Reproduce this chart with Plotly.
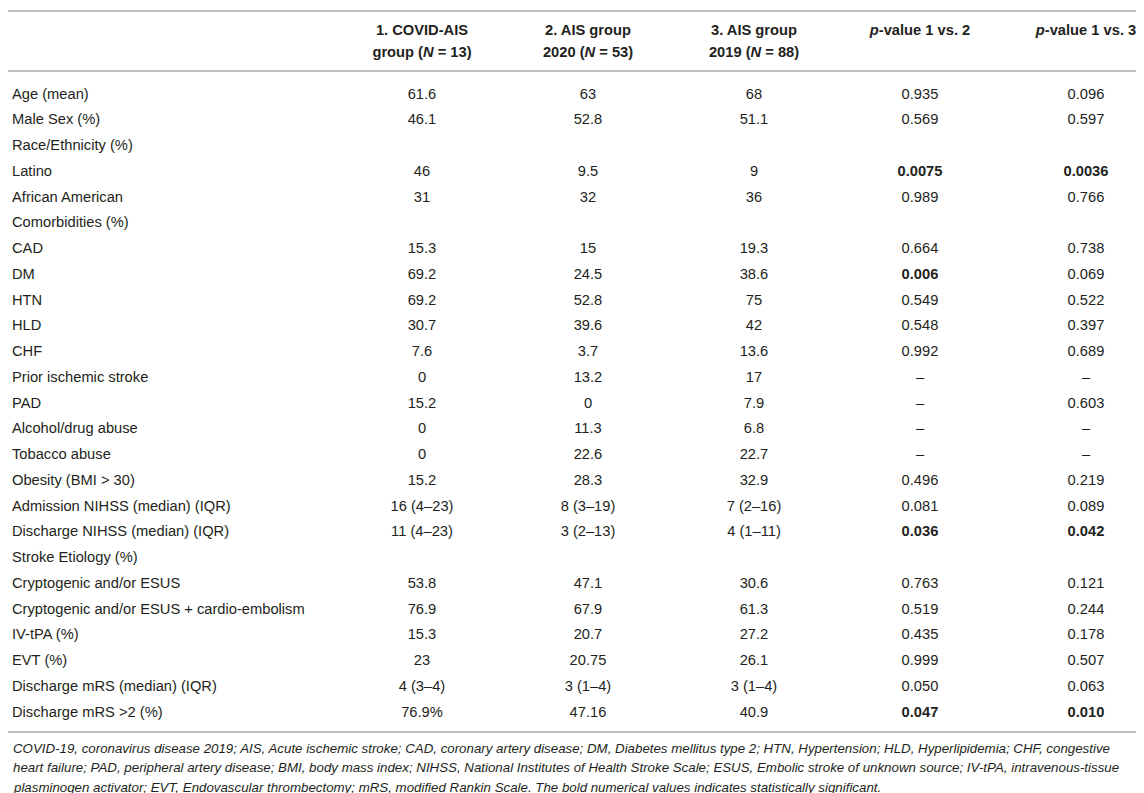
import plotly.graph_objects as go

# table contents
header_top = ['<b>1. COVID-AIS</b>', '<b>2. AIS group</b>', '<b>3. AIS group</b>',
              '<b><i>p</i>-value 1 vs. 2</b>', '<b><i>p</i>-value 1 vs. 3</b>']
header_bottom = ['<b>group (<i>N</i> = 13)</b>', '<b>2020 (<i>N</i> = 53)</b>',
                 '<b>2019 (<i>N</i> = 88)</b>', '', '']

row_labels = ['Age (mean)', 'Male Sex (%)', 'Race/Ethnicity (%)', 'Latino',
              'African American', 'Comorbidities (%)', 'CAD', 'DM', 'HTN', 'HLD',
              'CHF', 'Prior ischemic stroke', 'PAD', 'Alcohol/drug abuse',
              'Tobacco abuse', 'Obesity (BMI > 30)',
              'Admission NIHSS (median) (IQR)', 'Discharge NIHSS (median) (IQR)',
              'Stroke Etiology (%)', 'Cryptogenic and/or ESUS',
              'Cryptogenic and/or ESUS + cardio-embolism', 'IV-tPA (%)', 'EVT (%)',
              'Discharge mRS (median) (IQR)', 'Discharge mRS >2 (%)']

covid_ais = ['61.6', '46.1', '', '46', '31', '', '15.3', '69.2', '69.2', '30.7',
             '7.6', '0', '15.2', '0', '0', '15.2', '16 (4–23)', '11 (4–23)', '',
             '53.8', '76.9', '15.3', '23', '4 (3–4)', '76.9%']
ais_2020 = ['63', '52.8', '', '9.5', '32', '', '15', '24.5', '52.8', '39.6',
            '3.7', '13.2', '0', '11.3', '22.6', '28.3', '8 (3–19)', '3 (2–13)', '',
            '47.1', '67.9', '20.7', '20.75', '3 (1–4)', '47.16']
ais_2019 = ['68', '51.1', '', '9', '36', '', '19.3', '38.6', '75', '42',
            '13.6', '17', '7.9', '6.8', '22.7', '32.9', '7 (2–16)', '4 (1–11)', '',
            '30.6', '61.3', '27.2', '26.1', '3 (1–4)', '40.9']
p_1vs2 = ['0.935', '0.569', '', '0.0075', '0.989', '', '0.664', '0.006', '0.549',
          '0.548', '0.992', '–', '–', '–', '–', '0.496', '0.081', '0.036', '',
          '0.763', '0.519', '0.435', '0.999', '0.050', '0.047']
p_1vs3 = ['0.096', '0.597', '', '0.0036', '0.766', '', '0.738', '0.069', '0.522',
          '0.397', '0.689', '–', '0.603', '–', '–', '0.219', '0.089', '0.042', '',
          '0.121', '0.244', '0.178', '0.507', '0.063', '0.010']

# statistically significant p-values are set in bold
sig_1vs2 = ['0.0075', '0.006', '0.036', '0.047']
sig_1vs3 = ['0.0036', '0.042', '0.010']

footnote_lines = [
    'COVID-19, coronavirus disease 2019; AIS, Acute ischemic stroke; CAD, coronary artery disease; '
    'DM, Diabetes mellitus type 2; HTN, Hypertension; HLD, Hyperlipidemia; CHF, congestive',
    'heart failure; PAD, peripheral artery disease; BMI, body mass index; NIHSS, National Institutes of '
    'Health Stroke Scale; ESUS, Embolic stroke of unknown source; IV-tPA, intravenous-tissue',
    'plasminogen activator; EVT, Endovascular thrombectomy; mRS, modified Rankin Scale. '
    'The bold numerical values indicates statistically significant.',
]


def bold(values, sig):
  return ['<b>%s</b>' % v if v in sig else v for v in values]


W, H = 1144, 793
font = 'Liberation Sans, Arial, Helvetica, sans-serif'
ink = '#231f20'
rule = '#a9a9a9'
fs = 14.7

# axis geometry: value columns sit at x = 1..5, rows at y = 0..n-1
col_px0, col_step = 414, 166          # pixel centre of column 1, spacing
row_px0, row_step = 87, 25.75         # pixel centre of first row, spacing
label_x = 1 + (4 - col_px0) / col_step
head_y = [(23 - row_px0) / row_step, (45 - row_px0) / row_step]

n = len(row_labels)
rows = list(range(n))
columns = [covid_ais, ais_2020, ais_2019,
           bold(p_1vs2, sig_1vs2), bold(p_1vs3, sig_1vs3)]

fig = go.Figure()

fig.add_trace(go.Scatter(
    x=[label_x] * n, y=rows, text=row_labels, mode='text',
    textposition='middle right', hoverinfo='skip', cliponaxis=False,
    textfont=dict(family=font, size=fs, color=ink)))

for i, vals in enumerate(columns):
  fig.add_trace(go.Scatter(
      x=[i + 1] * n, y=rows, text=vals, mode='text',
      textposition='middle center', hoverinfo='skip', cliponaxis=False,
      textfont=dict(family=font, size=fs, color=ink)))

for y, texts in zip(head_y, [header_top, header_bottom]):
  fig.add_trace(go.Scatter(
      x=list(range(1, 6)), y=[y] * 5, text=texts, mode='text',
      textposition='middle center', hoverinfo='skip', cliponaxis=False,
      textfont=dict(family=font, size=fs, color=ink)))

for y in [3, 63, 724]:
  fig.add_shape(type='line', xref='paper', yref='paper', x0=0, x1=1142 / W,
                y0=1 - y / H, y1=1 - y / H, line=dict(color=rule, width=1.6))

for k, line in enumerate(footnote_lines):
  fig.add_annotation(text='<i>%s</i>' % line, xref='paper', yref='paper',
                     x=3 / W, y=1 - (740 + 19.5 * k) / H, xanchor='left',
                     yanchor='middle', align='left', showarrow=False,
                     font=dict(family=font, size=13.3, color=ink))

fig.update_layout(
    width=W, height=H, margin=dict(l=0, r=0, t=0, b=0),
    paper_bgcolor='white', plot_bgcolor='white', showlegend=False,
    xaxis=dict(visible=False, range=[1 - col_px0 / col_step,
                                     1 + (W - col_px0) / col_step]),
    yaxis=dict(visible=False, range=[(H - row_px0) / row_step,
                                     -row_px0 / row_step]))

fig.write_html('out.html')
